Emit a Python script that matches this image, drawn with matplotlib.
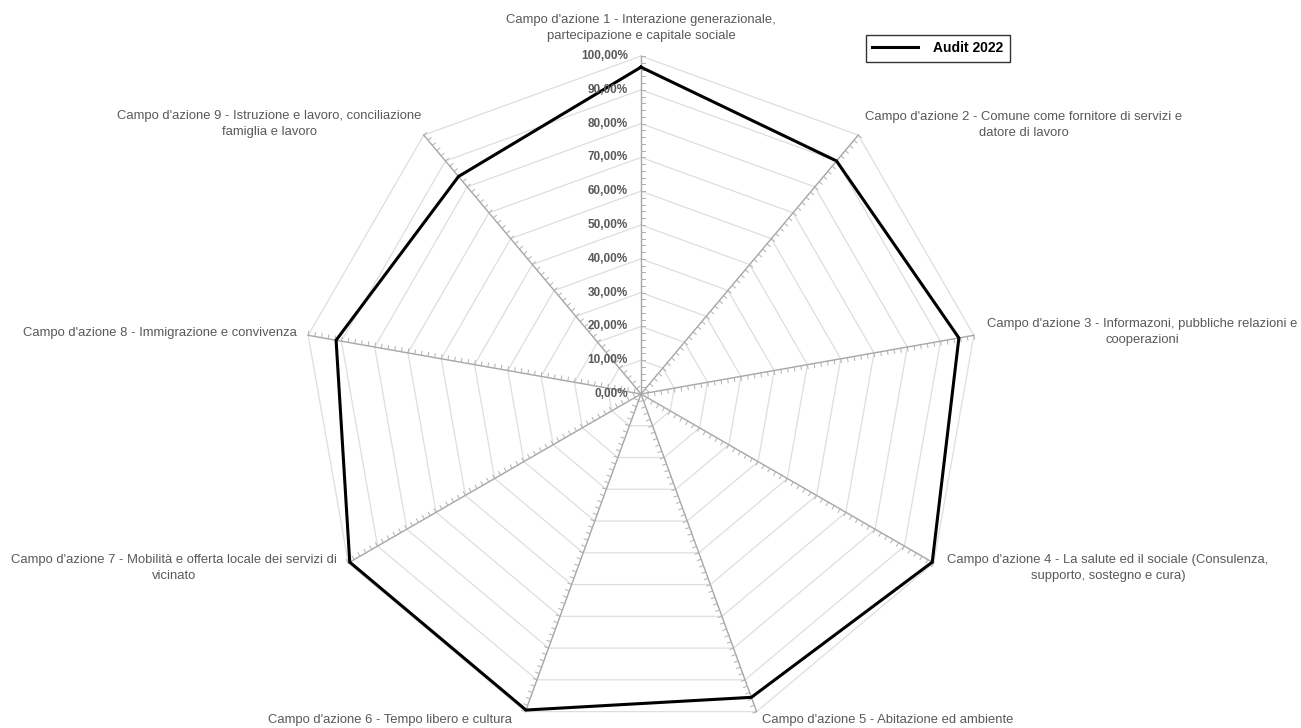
import numpy as np
import matplotlib
matplotlib.use("Agg")
import matplotlib.pyplot as plt

plt.rcParams['font.family'] = ['Liberation Sans', 'DejaVu Sans']

labels = ["Campo d'azione 1 - Interazione generazionale,\npartecipazione e capitale sociale",
          "Campo d'azione 2 - Comune come fornitore di servizi e\ndatore di lavoro",
          "Campo d'azione 3 - Informazoni, pubbliche relazioni e\ncooperazioni",
          "Campo d'azione 4 - La salute ed il sociale (Consulenza,\nsupporto, sostegno e cura)",
          "Campo d'azione 5 - Abitazione ed ambiente",
          "Campo d'azione 6 - Tempo libero e cultura",
          "Campo d'azione 7 - Mobilità e offerta locale dei servizi di\nvicinato",
          "Campo d'azione 8 - Immigrazione e convivenza",
          "Campo d'azione 9 - Istruzione e lavoro, conciliazione\nfamiglia e lavoro"]
audit_2022 = [0.967, 0.90, 0.955, 0.995, 0.955, 0.995, 0.995, 0.916, 0.84]
grid_levels = [0.0, 0.1, 0.2, 0.3, 0.4, 0.5, 0.6, 0.7, 0.8, 0.9, 1.0]
grid_labels = ["0,00%", "10,00%", "20,00%", "30,00%", "40,00%", "50,00%",
               "60,00%", "70,00%", "80,00%", "90,00%", "100,00%"]

# label anchor points in pixels (centre of text block)
label_pos = [(641, 28), (1024, 125), (1142, 332), (1108, 568), (888, 720),
             (390, 720), (174, 568), (160, 333), (269, 124)]

W, H = 1301, 728
cx, cy, R = 641, 394, 338

fig = plt.figure(figsize=(W / 100, H / 100), dpi=100)
ax = fig.add_axes([0, 0, 1, 1])
ax.set_xlim(-cx / R, (W - cx) / R)
ax.set_ylim(-(H - cy) / R, cy / R)
ax.set_aspect('equal')
ax.axis('off')

n = len(labels)
theta = np.arange(n) * 2 * np.pi / n
theta_c = np.append(theta, theta[0])

# polygon rings
for lev in grid_levels[1:]:
    ax.plot(lev * np.sin(theta_c), lev * np.cos(theta_c), color='#dedede', lw=0.9, zorder=1)

# spokes with small ticks every 2%
tick_r = np.arange(0.02, 1.001, 0.02)
tl = 4 / R
for t in theta:
    ax.plot([0, np.sin(t)], [0, np.cos(t)], color='#a6a6a6', lw=1.0, zorder=2)
    px, py = np.cos(t), -np.sin(t)
    for r in tick_r:
        x0, y0 = r * np.sin(t), r * np.cos(t)
        ax.plot([x0, x0 + px * tl], [y0, y0 + py * tl], color='#b0b0b0', lw=0.7, zorder=2)

# data
vals = np.append(audit_2022, audit_2022[0])
line, = ax.plot(vals * np.sin(theta_c), vals * np.cos(theta_c), color='black', lw=2.2,
                zorder=4, label='Audit 2022', solid_joinstyle='miter')

# radial labels on top spoke
for lev, txt in zip(grid_levels, grid_labels):
    ax.text(-13 / R, lev, txt, ha='right', va='center', fontsize=8.5, fontweight='bold',
            color='#595959', zorder=5)

# category labels
for (lx, ly), txt in zip(label_pos, labels):
    fig.text(lx / W, 1 - ly / H, txt, ha='center', va='center', fontsize=9.4,
             color='#595959', linespacing=1.35, multialignment='center')

leg = fig.legend(handles=[line], loc='upper left', bbox_to_anchor=(866 / W, 1 - 35 / H),
                 frameon=True, fancybox=False, edgecolor='black', fontsize=10,
                 handlelength=3.3, borderpad=0.45, handletextpad=1.1, borderaxespad=0)
leg.get_frame().set_linewidth(1.0)
for t in leg.get_texts():
    t.set_fontweight('bold')

fig.savefig('out.png', dpi=100)
